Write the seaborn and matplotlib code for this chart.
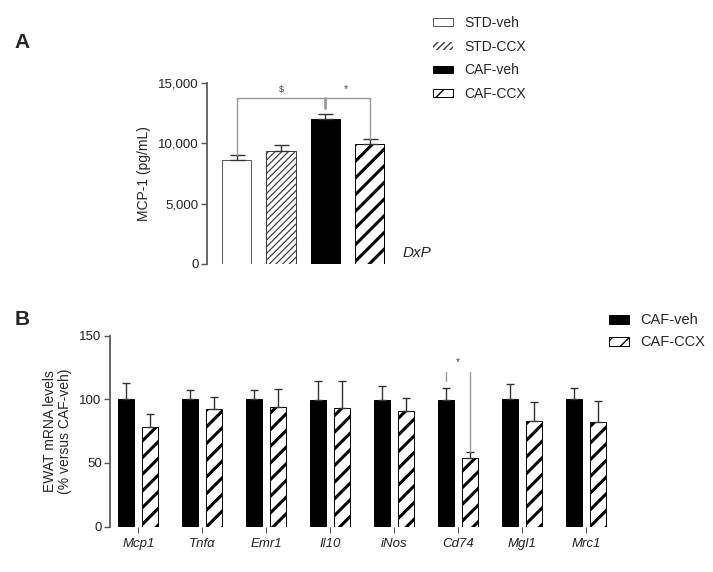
import numpy as np
import pandas as pd
import matplotlib
matplotlib.use("Agg")
import matplotlib.pyplot as plt
import matplotlib.patches as mpatches
from matplotlib.ticker import StrMethodFormatter
import seaborn as sns

# ---------------------------------------------------------
# DATA
# ---------------------------------------------------------
groups_a = ['STD-veh', 'STD-CCX', 'CAF-veh', 'CAF-CCX']
mcp1_mean = [8600, 9360, 12020, 9920]
mcp1_sem = [400, 500, 410, 440]

genes = ['Mcp1', 'Tnfα', 'Emr1', 'Il10', 'iNos', 'Cd74', 'Mgl1', 'Mrc1']
groups_b = ['CAF-veh', 'CAF-CCX']
caf_veh_mean = [100, 100, 100, 99.5, 99.5, 99.5, 100, 100]
caf_veh_sem = [13, 7.5, 7, 15, 11, 9, 12, 9]
caf_ccx_mean = [78, 92, 93.5, 93, 91, 54, 83, 82]
caf_ccx_sem = [10.5, 10, 14.5, 21.5, 10, 4.5, 15, 16.5]

# ---------------------------------------------------------
# STYLE
# ---------------------------------------------------------
sns.set_theme(style="ticks")
plt.rcParams['font.family'] = ['Liberation Sans', 'DejaVu Sans']
plt.rcParams['axes.edgecolor'] = '#555555'
plt.rcParams['xtick.color'] = '#555555'
plt.rcParams['ytick.color'] = '#555555'
plt.rcParams['xtick.labelcolor'] = '#222222'
plt.rcParams['ytick.labelcolor'] = '#222222'

# bar styles per group: face, edge, hatch, hatch linewidth
STYLE = {
    'STD-veh': dict(face='white', edge='#555555', hatch='', hlw=0.5),
    'STD-CCX': dict(face='white', edge='#3a3a3a', hatch='/////', hlw=0.85),
    'CAF-veh': dict(face='black', edge='black', hatch='', hlw=0.5),
    'CAF-CCX': dict(face='white', edge='black', hatch='//', hlw=2.2),
}
BRACKET = '#9a9a9a'


def style_patch(p, g, lw=0.7):
    s = STYLE[g]
    p.set_facecolor(s['face'])
    p.set_edgecolor(s['edge'])
    p.set_linewidth(lw)
    p.set_hatch(s['hatch'])
    if hasattr(p, 'set_hatch_linewidth'):
        p.set_hatch_linewidth(s['hlw'])


def legend_handles(groups):
    hs = []
    for g in groups:
        h = mpatches.Patch(label=g)
        style_patch(h, g, lw=0 if g == 'STD-CCX' else 0.7)
        hs.append(h)
    return hs


fig = plt.figure(figsize=(7.13, 5.72), dpi=100)

# ---------------------------------------------------------
# PANEL A
# ---------------------------------------------------------
axA = fig.add_axes([0.2903, 0.5385, 0.2746, 0.3164])
sns.barplot(x=groups_a, y=mcp1_mean, hue=groups_a, palette=['white'] * 4,
            width=0.66, errorbar=None, legend=False, ax=axA)
for p, g in zip(axA.patches, groups_a):
    style_patch(p, g)

xa = np.arange(len(groups_a))
axA.errorbar(xa, mcp1_mean, yerr=[np.zeros(len(xa)), mcp1_sem], fmt='none',
             ecolor='#333333', elinewidth=1, capsize=5.4, capthick=1, zorder=5)

axA.set_xlim(-0.67, 3.75)
axA.set_ylim(0, 15000)
axA.set_yticks([0, 5000, 10000, 15000])
axA.yaxis.set_major_formatter(StrMethodFormatter('{x:,.0f}'))
axA.tick_params(axis='y', labelsize=9.5, length=4, width=1, pad=2)
axA.set_xticks([])
axA.set_ylabel('MCP-1 (pg/mL)', fontsize=10, labelpad=5)
sns.despine(ax=axA, bottom=True)

# significance bracket
top_a = np.array(mcp1_mean) + np.array(mcp1_sem)
yb = 13730
axA.plot([xa[0], xa[0], xa[3], xa[3]], [top_a[0], yb, yb, top_a[3]],
         color=BRACKET, lw=1, zorder=6)
axA.plot([xa[2], xa[2]], [yb, 12900], color=BRACKET, lw=2, zorder=6)
axA.text(1.0, 14100, '$', fontsize=6.5, ha='center', va='bottom', color='#444444')
axA.text(2.47, 14100, '*', fontsize=7.5, ha='center', va='bottom', color='#444444')
axA.text(1.0, 0.06, 'DxP', transform=axA.transAxes, fontsize=11,
         style='italic', ha='left', va='center')

fig.legend(handles=legend_handles(groups_a), loc='upper left',
           bbox_to_anchor=(0.607, 0.972), frameon=False, fontsize=10,
           handlelength=1.45, handleheight=0.5, handletextpad=0.8,
           labelspacing=0.7, borderpad=0, borderaxespad=0)

# ---------------------------------------------------------
# PANEL B
# ---------------------------------------------------------
axB = fig.add_axes([0.1543, 0.0795, 0.6994, 0.3339])
df_b = pd.DataFrame({
    'gene': genes * 2,
    'group': [groups_b[0]] * len(genes) + [groups_b[1]] * len(genes),
    'value': caf_veh_mean + caf_ccx_mean,
})
sns.barplot(data=df_b, x='gene', y='value', hue='group', hue_order=groups_b,
            palette=['black', 'white'], width=0.75, gap=1 / 3,
            errorbar=None, legend=False, ax=axB)
bars_b = axB.patches
n = len(genes)
for i, p in enumerate(bars_b):
    style_patch(p, groups_b[i // n])

xc = np.array([p.get_x() + p.get_width() / 2 for p in bars_b])
x_veh, x_ccx = xc[:n], xc[n:]
axB.errorbar(x_veh, caf_veh_mean, yerr=[np.zeros(n), caf_veh_sem], fmt='none',
             ecolor='#333333', elinewidth=1, capsize=2.9, capthick=1, zorder=5)
axB.errorbar(x_ccx, caf_ccx_mean, yerr=[np.zeros(n), caf_ccx_sem], fmt='none',
             ecolor='#333333', elinewidth=1, capsize=2.9, capthick=1, zorder=5)

axB.set_xlim(-0.443, 7.35)
axB.set_ylim(0, 150)
axB.set_yticks([0, 50, 100, 150])
axB.tick_params(axis='y', labelsize=9.5, length=4, width=1, pad=2)
axB.tick_params(axis='x', labelsize=9.5, length=4, width=0.8, pad=4)
for lab in axB.get_xticklabels():
    lab.set_style('italic')
axB.set_xlabel('')
axB.set_ylabel('EWAT mRNA levels\n(% versus CAF-veh)', fontsize=10, labelpad=5,
               linespacing=1.1)
sns.despine(ax=axB, bottom=True)

# Cd74 significance marks
k = genes.index('Cd74')
yk = 121
axB.plot([x_veh[k], x_veh[k]], [yk, 114], color=BRACKET, lw=1, zorder=6)
axB.plot([x_ccx[k], x_ccx[k]], [yk, caf_ccx_mean[k] + caf_ccx_sem[k]],
         color=BRACKET, lw=1, zorder=6)
axB.text(k, 125, '*', fontsize=7.5, ha='center', va='bottom', color='#444444')

fig.legend(handles=legend_handles(groups_b), loc='upper left',
           bbox_to_anchor=(0.854, 0.452), frameon=False, fontsize=10.5,
           handlelength=1.35, handleheight=0.6, handletextpad=0.8,
           labelspacing=0.55, borderpad=0, borderaxespad=0)

# panel letters
fig.text(0.02, 0.926, 'A', fontsize=15, fontweight='bold', va='center')
fig.text(0.02, 0.442, 'B', fontsize=15, fontweight='bold', va='center')

fig.savefig('out.png', dpi=100)
